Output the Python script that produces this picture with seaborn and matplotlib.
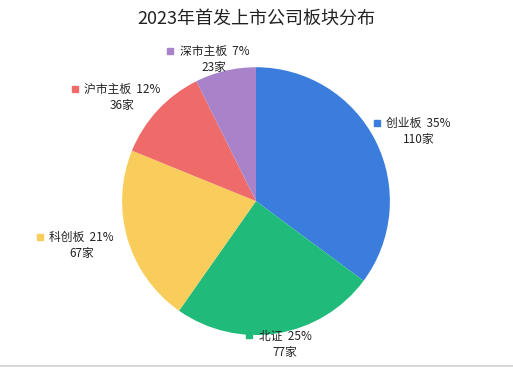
import matplotlib
matplotlib.use("Agg")
import numpy as np
import matplotlib.pyplot as plt
import seaborn as sns

boards = ["创业板", "北证", "科创板", "沪市主板", "深市主板"]
counts = [110, 77, 67, 36, 23]
pcts = ["35%", "25%", "21%", "12%", "7%"]
colors = ["#3a7ddc", "#20bb7b", "#f9cd5b", "#ee6b6a", "#a983c9"]

sns.set_theme(style="white")
plt.rcParams["font.family"] = ["Noto Sans CJK SC", "DejaVu Sans"]

fig = plt.figure(figsize=(5.13, 3.67), dpi=100)
ax = fig.add_axes([0.238, 0.087, 0.522, 0.730])

wedges, _ = ax.pie(counts, colors=sns.color_palette(colors), startangle=90,
                   counterclock=False, radius=1, wedgeprops=dict(linewidth=0))
ax.set_xlim(-1, 1)
ax.set_ylim(-1, 1)
ax.set_aspect("equal")

for w, name, pct, n, c in zip(wedges, boards, pcts, counts, colors):
    ang = np.deg2rad((w.theta1 + w.theta2) / 2)
    x = 1.36 * np.cos(ang)
    y = (1.08 + 0.1 * np.cos(ang) ** 2) * np.sin(ang)
    t = ax.text(x, y + 0.06, f"{name}  {pct}", ha="center", va="center",
                fontsize=8.5, color="#222222")
    ax.text(x, y - 0.06, f"{n}家", ha="center", va="center",
            fontsize=8.5, color="#222222")
    fig.canvas.draw()
    bb = t.get_window_extent().transformed(ax.transData.inverted())
    ax.plot(bb.x0 - 0.07, y + 0.065, marker="s", markersize=5, color=c,
            clip_on=False)

fig.text(0.499, 0.95, "2023年首发上市公司板块分布", ha="center", va="center",
         fontsize=13, color="#222222")
fig.add_artist(plt.Line2D([0, 1], [0.004, 0.004], color="#d8d8d8", linewidth=1.5))

fig.savefig("out.png", dpi=100)
